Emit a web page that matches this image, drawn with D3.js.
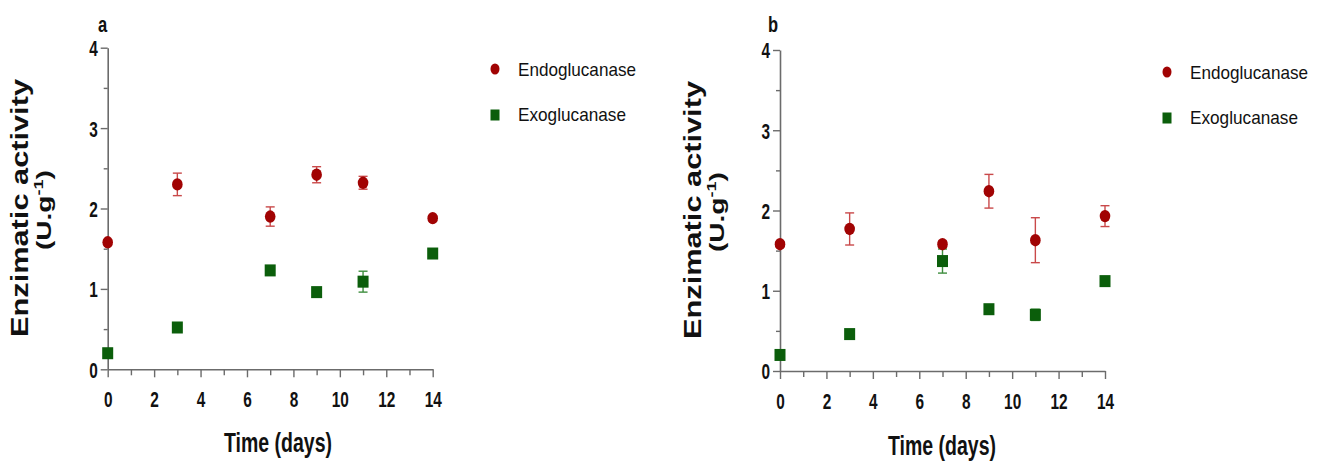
<!DOCTYPE html>
<html><head><meta charset="utf-8">
<script src="https://cdn.jsdelivr.net/npm/d3@7"></script>
<style>
body{margin:0;background:#fff;}
svg{display:block;}
</style></head>
<body>
<svg id="chart" width="1321" height="461"></svg>
<script>
const days = [0, 3, 7, 9, 11, 14];
const seriesNames = ["Endoglucanase", "Exoglucanase"];
// Panel a
const endoA = [1.58, 2.30, 1.90, 2.42, 2.32, 1.88];
const endoAerr = [0.03, 0.14, 0.12, 0.10, 0.08, 0.03];
const exoA = [0.20, 0.52, 1.23, 0.96, 1.09, 1.44];
const exoAerr = [0.03, 0.04, 0.04, 0.04, 0.13, 0.04];
// Panel b
const endoB = [1.58, 1.77, 1.58, 2.24, 1.63, 1.93];
const endoBerr = [0.03, 0.20, 0.04, 0.21, 0.28, 0.13];
const exoB = [0.20, 0.46, 1.37, 0.77, 0.70, 1.12];
const exoBerr = [0.03, 0.03, 0.15, 0.04, 0.07, 0.04];
const xTicks = [0, 2, 4, 6, 8, 10, 12, 14];
const yTicks = [0, 1, 2, 3, 4];
const panelLabels = ["a", "b"];

const ENDO = "#a10303", ENDO_ERR = "#c9494a", EXO = "#0b5e0b", EXO_ERR = "#3e8e3e";
const AXIS = "#6b6b6b";
const SANS = "'Liberation Sans',Arial,sans-serif";
const SX = 0.7; // horizontal condensation of tick labels

const svg = d3.select("#chart");

function panel(cfg) {
  const g = svg.append("g");
  const x = d3.scaleLinear().domain([0, 14]).range([cfg.x0, cfg.x1]);
  const y = d3.scaleLinear().domain([0, 4]).range([cfg.y0, cfg.y1]);

  // x axis
  const xAx = g.append("g").attr("transform", `translate(0,${cfg.y0})`)
    .call(d3.axisBottom(x).tickValues(d3.range(0, 15, 1)).tickSize(7).tickSizeOuter(0)
      .tickFormat(d => xTicks.includes(d) ? d : ""));
  xAx.select(".domain").attr("stroke", AXIS).attr("stroke-width", 1.6);
  xAx.selectAll(".tick line").attr("stroke", AXIS).attr("stroke-width", 1.4)
    .attr("y2", d => xTicks.includes(d) ? 8 : 6);
  xAx.selectAll(".tick text").attr("fill", "#111").attr("font-family", SANS)
    .attr("font-weight", "bold").attr("font-size", 22).attr("dy", 0).attr("y", cfg.xlabY)
    .attr("transform", `scale(${SX},1)`);

  // y axis
  const yAx = g.append("g").attr("transform", `translate(${cfg.x0},0)`)
    .call(d3.axisLeft(y).tickValues(d3.range(0, 4.01, 0.5)).tickSize(7).tickSizeOuter(0)
      .tickFormat(d => yTicks.includes(d) ? d : ""));
  yAx.select(".domain").attr("stroke", AXIS).attr("stroke-width", 1.6);
  yAx.selectAll(".tick line").attr("stroke", AXIS).attr("stroke-width", 1.4)
    .attr("x2", d => yTicks.includes(d) ? -7 : -4);
  yAx.selectAll(".tick text").attr("fill", "#111").attr("font-family", SANS)
    .attr("font-weight", "bold").attr("font-size", 22).attr("x", -10 / SX).attr("dy", "0.36em")
    .attr("transform", `scale(${SX},1)`);

  // error bars + markers
  function errBars(vals, errs, color) {
    const eg = g.append("g").attr("stroke", color).attr("stroke-width", 1.4).attr("fill", "none");
    days.forEach((d, i) => {
      const cx = x(d), top = y(vals[i] + errs[i]), bot = y(vals[i] - errs[i]);
      eg.append("line").attr("x1", cx).attr("x2", cx).attr("y1", top).attr("y2", bot);
      eg.append("line").attr("x1", cx - 4.5).attr("x2", cx + 4.5).attr("y1", top).attr("y2", top);
      eg.append("line").attr("x1", cx - 4.5).attr("x2", cx + 4.5).attr("y1", bot).attr("y2", bot);
    });
  }
  errBars(cfg.endo, cfg.endoErr, ENDO_ERR);
  errBars(cfg.exo, cfg.exoErr, EXO_ERR);

  g.append("g").selectAll("ellipse").data(days).join("ellipse")
    .attr("cx", d => x(d)).attr("cy", (d, i) => y(cfg.endo[i]))
    .attr("rx", 5.3).attr("ry", 6.2).attr("fill", ENDO);
  g.append("g").selectAll("rect").data(days).join("rect")
    .attr("x", d => x(d) - 5.5).attr("y", (d, i) => y(cfg.exo[i]) - 6)
    .attr("width", 11).attr("height", 12).attr("fill", EXO);

  // panel label
  g.append("text").attr("transform", `translate(${cfg.x0 + cfg.lblDx},32) scale(0.75,1)`)
    .attr("text-anchor", "middle")
    .attr("font-family", SANS).attr("font-weight", "bold").attr("font-size", 22).attr("fill", "#111")
    .text(cfg.label);

  // axis titles
  g.append("text").attr("x", cfg.titleX).attr("y", cfg.titleY).attr("text-anchor", "middle")
    .attr("font-family", SANS).attr("font-weight", "bold").attr("font-size", 27).attr("fill", "#111")
    .attr("textLength", 108).attr("lengthAdjust", "spacingAndGlyphs")
    .text("Time (days)");

  g.append("text").attr("transform", `translate(${cfg.yl1X},${cfg.ylY}) rotate(-90)`)
    .attr("text-anchor", "middle").attr("font-family", SANS).attr("font-weight", "bold")
    .attr("font-size", 23).attr("fill", "#111")
    .attr("textLength", 258).attr("lengthAdjust", "spacingAndGlyphs")
    .text("Enzimatic activity");
  const t2 = g.append("text").attr("transform", `translate(${cfg.yl2X},${cfg.ylY + 2}) rotate(-90) scale(1.4,1)`)
    .attr("text-anchor", "middle").attr("font-family", SANS).attr("font-weight", "bold")
    .attr("font-size", 20).attr("fill", "#111");
  t2.append("tspan").text("(U.g");
  t2.append("tspan").attr("font-size", 13).attr("dy", -8).text("-1");
  t2.append("tspan").attr("dy", 8).text(")");

  // legend
  const lg = g.append("g");
  lg.append("ellipse").attr("cx", cfg.legX).attr("cy", cfg.legY).attr("rx", 4.5).attr("ry", 5.5).attr("fill", ENDO);
  lg.append("rect").attr("x", cfg.legX - 4.5).attr("y", cfg.legY + 46 - 5.5).attr("width", 9).attr("height", 11).attr("fill", EXO);
  [0, 1].forEach(i => {
    lg.append("text").attr("x", cfg.legX + 23).attr("y", cfg.legY + 7 + i * 45)
      .attr("font-family", SANS).attr("font-size", 19).attr("fill", "#111")
      .attr("textLength", i === 0 ? 118 : 108).attr("lengthAdjust", "spacingAndGlyphs")
      .text(seriesNames[i]);
  });
}

panel({label: panelLabels[0], x0: 107.7, x1: 432.7, y0: 369.3, y1: 47.7, lblDx: -5,
  endo: endoA, endoErr: endoAerr, exo: exoA, exoErr: exoAerr,
  xlabY: 38, titleX: 278, titleY: 452, yl1X: 28, yl2X: 51, ylY: 208, legX: 495, legY: 69});
panel({label: panelLabels[1], x0: 780, x1: 1105, y0: 371, y1: 50, lblDx: -7,
  endo: endoB, endoErr: endoBerr, exo: exoB, exoErr: exoBerr,
  xlabY: 38, titleX: 942, titleY: 455, yl1X: 701, yl2X: 724, ylY: 210, legX: 1167, legY: 72});
</script>
</body></html>
